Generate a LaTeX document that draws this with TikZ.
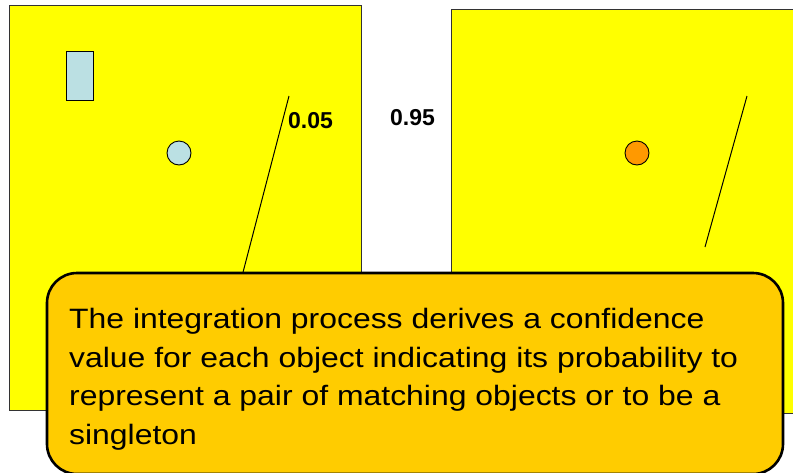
\documentclass[tikz,border=0pt]{standalone}
\usepackage{fontspec}
\setmainfont{Liberation Sans}
\newfontfamily\notefont[FakeStretch=1.14]{Liberation Sans}

\begin{document}
\begin{tikzpicture}[x=1pt, y=-1pt]
    % Define colours
    \definecolor{sceneColour}{HTML}{FFFF00}
    \definecolor{frameColour}{HTML}{333333}
    \definecolor{blueColour}{HTML}{BBE0E3}
    \definecolor{orangeColour}{HTML}{FF9900}
    \definecolor{noteColour}{HTML}{FFCC00}

    \tikzset{
        scene/.style={fill=sceneColour, draw=frameColour, line width=1pt},
        obj/.style={draw=black, line width=0.9pt, inner sep=0pt},
        prob/.style={font=\fontsize{23}{28}\selectfont\bfseries, inner sep=0pt, anchor=base west},
        edge/.style={line width=1pt}
    }

    \useasboundingbox (0,0) rectangle (793,472);

    % Draw the two scenes
    \draw[scene] (9,5) rectangle (361,410);
    \draw[scene] (451,9) rectangle (800,413);

    % Objects in the first scene
    \node[obj, rectangle, fill=blueColour, minimum width=27pt, minimum height=49pt] (rectA) at (79.5,75.5) {};
    \node[obj, circle, fill=blueColour, minimum size=24pt] (dotA) at (179,153) {};

    % Object in the second scene
    \node[obj, circle, fill=orangeColour, minimum size=24pt] (dotB) at (637,153) {};

    % Draw the separating lines
    \coordinate (lineAtop) at (289,96);
    \coordinate (lineAbot) at (241,280);
    \coordinate (lineBtop) at (747,96);
    \coordinate (lineBbot) at (705,247);
    \draw[edge] (lineAtop) -- (lineAbot);
    \draw[edge] (lineBtop) -- (lineBbot);

    % Probabilities
    \node[prob] (probA) at (288,128) {0.05};
    \node[prob] (probB) at (390,125) {0.95};

    % Draw the note
    \draw[fill=noteColour, draw=black, line width=2.6pt, rounded corners=30pt] (47,273) rectangle (783,474);
    \node[anchor=base west, align=left, inner sep=0pt, font=\notefont\fontsize{28}{38.5}\selectfont] (note) at (69,444)
        {The integration process derives a confidence\\
         value for each object indicating its probability to\\
         represent a pair of matching objects or to be a\\
         singleton};

\end{tikzpicture}
\end{document}
